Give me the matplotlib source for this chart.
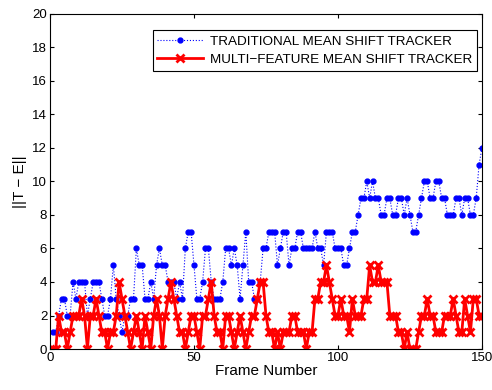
import numpy as np
from matplotlib import pyplot as plt

plt.rcParams['font.family'] = ['Liberation Sans', 'DejaVu Sans']

frames = np.arange(1, 151)

# ||T - E|| of the traditional mean shift tracker
traditional = [
    1, 1, 2, 3, 3, 2, 2, 4, 3, 4,
    4, 4, 2, 3, 4, 4, 4, 3, 2, 2,
    3, 5, 3, 2, 1, 2, 2, 3, 3, 6,
    5, 5, 3, 3, 4, 3, 5, 6, 5, 5,
    4, 4, 4, 3, 4, 3, 6, 7, 7, 5,
    3, 3, 4, 6, 6, 4, 3, 3, 3, 4,
    6, 6, 5, 6, 5, 3, 5, 7, 4, 4,
    3, 3, 4, 6, 6, 7, 7, 7, 5, 6,
    7, 7, 5, 6, 6, 7, 7, 6, 6, 6,
    6, 7, 6, 6, 5, 7, 7, 7, 6, 6,
    6, 5, 5, 6, 7, 7, 8, 9, 9, 10,
    9, 10, 9, 9, 8, 8, 9, 9, 8, 8,
    9, 9, 8, 9, 8, 7, 7, 8, 9, 10,
    10, 9, 9, 10, 10, 9, 9, 8, 8, 8,
    9, 9, 8, 9, 9, 8, 8, 9, 11, 12,
]

# ||T - E|| of the multi-feature mean shift tracker
multi_feature = [
    0, 0, 2, 1, 1, 0, 1, 2, 2, 2,
    3, 2, 0, 2, 2, 3, 2, 1, 1, 0,
    1, 1, 2, 4, 3, 2, 1, 0, 1, 2,
    1, 0, 2, 1, 0, 2, 3, 2, 0, 2,
    3, 4, 3, 2, 1, 1, 0, 1, 2, 2,
    1, 0, 2, 2, 3, 4, 2, 1, 1, 0,
    2, 2, 1, 0, 1, 2, 1, 0, 1, 2,
    2, 3, 4, 4, 2, 1, 1, 0, 1, 0,
    1, 1, 1, 2, 2, 1, 1, 1, 0, 1,
    1, 3, 3, 4, 4, 5, 4, 3, 2, 2,
    3, 2, 2, 1, 3, 2, 2, 2, 3, 3,
    5, 4, 4, 5, 4, 4, 4, 2, 2, 2,
    1, 1, 0, 1, 0, 0, 0, 1, 2, 2,
    3, 2, 2, 1, 1, 1, 2, 2, 2, 3,
    2, 1, 1, 3, 2, 1, 3, 3, 2, 2,
]

fig = plt.figure(figsize=(4.92, 3.9), dpi=100)
ax = fig.add_axes([0.1016, 0.105, 0.878, 0.86])

ax.plot(frames, traditional, ':', color='blue', marker='.', markersize=7,
        linewidth=0.8, label='TRADITIONAL MEAN SHIFT TRACKER')
ax.plot(frames, multi_feature, '-', color='red', marker='x', markersize=5.5,
        markeredgewidth=2, linewidth=2, label='MULTI\u2212FEATURE MEAN SHIFT TRACKER')

ax.set_xlim(0, 150)
ax.set_ylim(0, 20)
ax.set_xticks([0, 50, 100, 150])
ax.set_yticks(range(0, 21, 2))
ax.tick_params(direction='in', top=True, right=True, labelsize=9.5, length=3, pad=2)
ax.set_xlabel('Frame Number', fontsize=11, labelpad=0)
ax.set_ylabel('||T \u2212 E||', fontsize=11, labelpad=4)

leg = ax.legend(loc='upper right', bbox_to_anchor=(0.988, 0.95), fontsize=9.7,
                fancybox=False, edgecolor='black', framealpha=1,
                handlelength=3.4, handletextpad=0.5, borderpad=0.35,
                labelspacing=0.45, borderaxespad=0.0)
leg.get_frame().set_linewidth(0.8)

fig.savefig('out.png', dpi=100)
